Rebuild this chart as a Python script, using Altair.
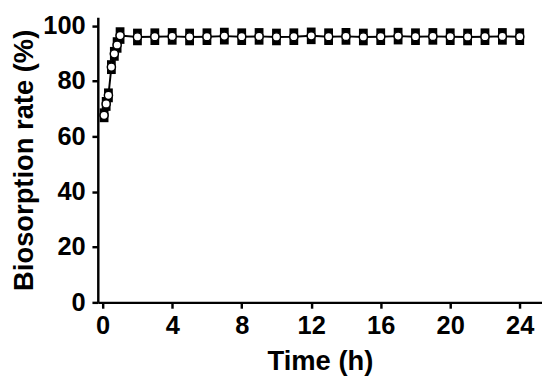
import altair as alt
import pandas as pd

# Time points (h)
times = [0.08, 0.2, 0.33, 0.5, 0.67, 0.83, 1.0,
         2, 3, 4, 5, 6, 7, 8, 9, 10, 11, 12, 13, 14, 15, 16, 17, 18, 19, 20, 21, 22, 23, 24]
# Biosorption rate (%)
rates = [67.6, 71.7, 74.8, 85.0, 89.8, 93.0, 96.4,
         95.9, 96.0, 96.1, 95.9, 96.0, 96.2, 96.0, 96.1, 95.9, 96.0, 96.3, 96.0,
         96.1, 95.9, 96.0, 96.2, 96.0, 96.1, 96.0, 95.9, 96.0, 96.1, 96.0]
# Error (SD)
errors = [2.5, 2.5, 2.5, 2.5, 2.5, 2.8, 3.0,
          3.0, 3.0, 3.0, 3.0, 3.0, 3.0, 3.0, 3.0, 3.0, 3.0, 3.0, 3.0,
          3.0, 3.0, 3.0, 3.0, 3.0, 3.0, 3.0, 3.0, 3.0, 3.0, 3.0]

x_ticks = list(range(0, 25, 2))
y_ticks = list(range(0, 101, 10))

df = pd.DataFrame({"t": times, "r": rates, "e": errors})
df["lo"] = df["r"] - df["e"]
df["hi"] = df["r"] + df["e"]

FONT = "Liberation Sans"

x_axis = alt.Axis(
    values=x_ticks,
    labelExpr="datum.value % 4 === 0 ? datum.label : ''",
    title="Time (h)",
    grid=False,
    domainColor="black", domainWidth=2.5,
    tickColor="black", tickWidth=2.5,
    tickSize={"condition": {"test": "datum.value % 4 === 0", "value": 6}, "value": 3},
    labelFont=FONT, labelFontSize=26, labelFontWeight="bold", labelColor="black",
    labelPadding=5, labelOverlap=False,
    titleFont=FONT, titleFontSize=28, titleFontWeight="bold", titleColor="black",
    titlePadding=10,
)
y_axis = alt.Axis(
    values=y_ticks,
    labelExpr="datum.value % 20 === 0 ? datum.label : ''",
    title="Biosorption rate (%)",
    grid=False,
    domainColor="black", domainWidth=2.5,
    tickColor="black", tickWidth=2.5,
    tickSize={"condition": {"test": "datum.value % 20 === 0", "value": 6}, "value": 3},
    labelFont=FONT, labelFontSize=26, labelFontWeight="bold", labelColor="black",
    labelPadding=7, labelOverlap=False,
    titleFont=FONT, titleFontSize=28, titleFontWeight="bold", titleColor="black",
    titlePadding=4,
)

x = alt.X("t:Q", scale=alt.Scale(domain=[0, 25], nice=False, zero=False), axis=x_axis)
y = alt.Y("r:Q", scale=alt.Scale(domain=[0, 103], nice=False), axis=y_axis)

base = alt.Chart(df)

line = base.mark_line(color="black", strokeWidth=2).encode(x=x, y=y)
err = base.mark_bar(color="black", size=9).encode(
    x=alt.X("t:Q"), y=alt.Y("lo:Q"), y2="hi:Q"
)
pts = base.mark_point(shape="circle", filled=True, fill="white", stroke="black",
                      strokeWidth=1.5, size=70, opacity=1).encode(x=alt.X("t:Q"), y=alt.Y("r:Q"))

chart = alt.layer(line, err, pts).properties(
    width=455, height=292,
    padding={"left": 3, "top": 0, "right": 0, "bottom": 0},
).configure_view(stroke=None)

chart.save("out.html", embed_options={"renderer": "svg", "actions": False})
